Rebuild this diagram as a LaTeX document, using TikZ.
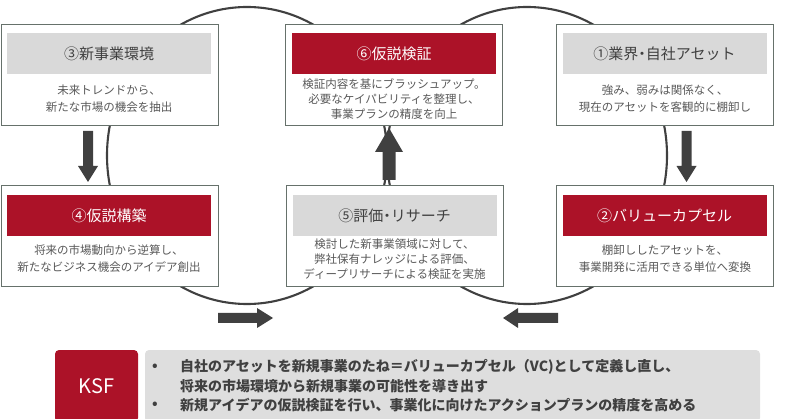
\documentclass[tikz,border=0pt]{standalone}
\usepackage{fontspec}
\setmainfont{Noto Sans CJK JP}
\definecolor{redh}{HTML}{AC1228}
\definecolor{headg}{HTML}{D9D9D9}
\definecolor{cardline}{HTML}{66716B}
\definecolor{titlec}{HTML}{404040}
\definecolor{bodyc}{HTML}{595959}
\definecolor{loopc}{HTML}{404040}
\definecolor{ksfg}{HTML}{DEDEDE}
\begin{document}
\begin{tikzpicture}[x=1pt,y=-1pt,
  card/.style={draw=cardline, line width=0.9pt, fill=white, minimum width=217pt, minimum height=101pt, inner sep=0pt},
  headgray/.style={fill=headg, minimum width=204pt, minimum height=41pt, inner sep=0pt, text=titlec, font=\fontsize{15}{18}\selectfont},
  headred/.style={fill=redh, minimum width=204pt, minimum height=41pt, inner sep=0pt, text=white, font=\fontsize{15}{18}\selectfont},
  body/.style={align=center, text=bodyc, font=\fontsize{11.5}{16.5}\selectfont, inner sep=0pt},
  bodyt/.style={align=center, text=bodyc, font=\fontsize{11.5}{15}\selectfont, inner sep=0pt},
  loopline/.style={draw=loopc, line width=2.1pt},
  blk/.style={fill=loopc},
  ksfline/.style={anchor=west, inner sep=0pt, text=titlec, font=\fontsize{14}{16}\selectfont\bfseries}
]
\useasboundingbox (0,0) rectangle (800,419);
% loops
\draw[loopline] (247,155.5) ellipse [x radius=140pt, y radius=148.5pt];
\draw[loopline] (527,155.5) ellipse [x radius=140pt, y radius=148.5pt];
% top row
\node[card] (c3) at (109.5,74.5) {};
\node[headgray] (h3) at (109,53.5) {③新事業環境};
\node[body] (b3) at (109,98.5) {未来トレンドから、\\新たな市場の機会を抽出};
\node[card] (c6) at (393.5,74.5) {};
\node[headred] (h6) at (394,53.5) {⑥仮説検証};
\node[bodyt] (b6) at (394,99) {検証内容を基にブラッシュアップ。\\必要なケイパビリティを整理し、\\事業プランの精度を向上};
\node[card] (c1) at (665,74.5) {};
\node[headgray] (h1) at (664.5,53.5) {①業界\kern-0.25em・\kern-0.25em 自社アセット};
\node[body] (b1) at (665,98.5) {強み、弱みは関係なく、\\現在のアセットを客観的に棚卸し};
% bottom row
\node[card] (c4) at (109.5,236) {};
\node[headred] (h4) at (109,215.5) {④仮説構築};
\node[body] (b4) at (109,258.5) {将来の市場動向から逆算し、\\新たなビジネス機会のアイデア創出};
\node[card] (c5) at (394.5,236) {};
\node[headgray] (h5) at (394.5,215.5) {⑤評価\kern-0.25em・\kern-0.25em リサーチ};
\node[bodyt] (b5) at (394.5,259) {検討した新事業領域に対して、\\弊社保有ナレッジによる評価、\\ディープリサーチによる検証を実施};
\node[card] (c2) at (665,236) {};
\node[headred] (h2) at (664.5,215.5) {②バリューカプセル};
\node[body] (b2) at (665,258.5) {棚卸ししたアセットを、\\事業開発に活用できる単位へ変換};
% block arrows
\fill[blk] (83,131) -- (93,131) -- (93,166) -- (98,166) -- (88,182) -- (78,166) -- (83,166) -- cycle;
\fill[blk] (681.5,131) -- (691.5,131) -- (691.5,166) -- (696.5,166) -- (686.5,182) -- (676.5,166) -- (681.5,166) -- cycle;
\fill[blk] (382.5,180) -- (382.5,152) -- (375,152) -- (389,128) -- (403,152) -- (395.5,152) -- (395.5,180) -- cycle;
\fill[blk] (218,313) -- (257,313) -- (257,308) -- (273,318) -- (257,328) -- (257,323) -- (218,323) -- cycle;
\fill[blk] (558,313) -- (518,313) -- (518,308) -- (503,318) -- (518,328) -- (518,323) -- (558,323) -- cycle;
% KSF
\node[fill=redh, rounded corners=4pt, minimum width=83pt, minimum height=72pt, inner sep=0pt, text=white, font=\fontsize{20}{24}\selectfont] (ksf) at (96.5,386) {KSF};
\node[fill=ksfg, rounded corners=4pt, minimum width=615pt, minimum height=72pt, inner sep=0pt] (ksfbox) at (452.5,386) {};
\node[ksfline] (k1b) at (152,367) {•};
\node[ksfline] (k1) at (180,367) {自社のアセットを新規事業のたね＝バリューカプセル（VC)として定義し直し、};
\node[ksfline] (k2) at (180,386) {将来の市場環境から新規事業の可能性を導き出す};
\node[ksfline] (k3b) at (152,405) {•};
\node[ksfline] (k3) at (180,405) {新規アイデアの仮説検証を行い、事業化に向けたアクションプランの精度を高める};
\end{tikzpicture}
\end{document}
